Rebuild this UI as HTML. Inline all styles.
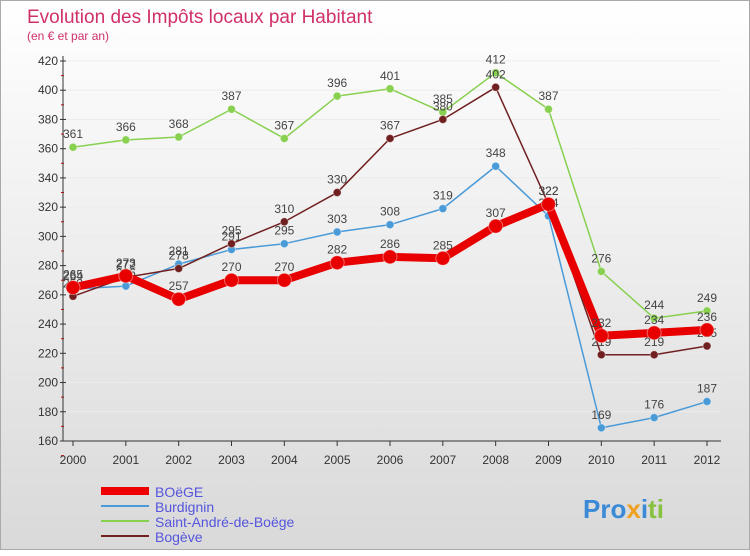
<!DOCTYPE html>
<html><head><meta charset="utf-8"><style>
body{margin:0;width:750px;height:550px;overflow:hidden;font-family:"Liberation Sans",sans-serif}
#wrap{position:absolute;left:0;top:0;width:748px;height:548px;border:1px solid #aaa;background:linear-gradient(#fff,#d9d9d9)}
</style></head><body>
<div id="wrap">
<svg width="750" height="550" id="svg">
<text x="26" y="22" font-size="19" fill="#d0306a">Evolution des Impôts locaux par Habitant</text>
<text x="26" y="39" font-size="12" fill="#d0306a">(en € et par an)</text>
<g id="axes"></g><g id="series"></g>
<g>
<line x1="100" y1="490" x2="148" y2="490" stroke="#e00" stroke-width="8"/>
<text x="154" y="496" font-size="14" fill="#5555dd">BOëGE</text>
<line x1="100" y1="505" x2="148" y2="505" stroke="#4a9ad8" stroke-width="2"/>
<text x="154" y="511" font-size="14" fill="#5555dd">Burdignin</text>
<line x1="100" y1="520" x2="148" y2="520" stroke="#88d050" stroke-width="2"/>
<text x="154" y="526" font-size="14" fill="#5555dd">Saint-André-de-Boëge</text>
<line x1="100" y1="535" x2="148" y2="535" stroke="#702020" stroke-width="2"/>
<text x="154" y="541" font-size="14" fill="#5555dd">Bogève</text>
</g>
<text x="582" y="517" font-size="26" font-weight="bold"><tspan fill="#3a8ad8">Pro</tspan><tspan fill="#f0a020">x</tspan><tspan fill="#3a8ad8">i</tspan><tspan fill="#88c040">ti</tspan></text>
</svg></div>
<script>
const years=["2000","2001","2002","2003","2004","2005","2006","2007","2008","2009","2010","2011","2012"];
const yTicks=[160,180,200,220,240,260,280,300,320,340,360,380,400,420];
const boege=[265,273,257,270,270,282,286,285,307,322,232,234,236];
const burdignin=[264,266,281,291,295,303,308,319,348,314,169,176,187];
const saintAndre=[361,366,368,387,367,396,401,385,412,387,276,244,249];
const bogeve=[259,272,278,295,310,330,367,380,402,322,219,219,225];
const NS="http://www.w3.org/2000/svg";
const X=i=>72+i*(634/12), Y=v=>60+(420-v)*380/260;
function mk(p,t,a){const e=document.createElementNS(NS,t);for(const k in a)e.setAttribute(k,a[k]);p.appendChild(e);return e;}
const ax=document.getElementById('axes');
for(const v of yTicks){
 const gl=mk(ax,'line',{x1:62,x2:720,y1:Y(v),y2:Y(v),stroke:'#ececec'});
 
 
 const t=mk(ax,'text',{x:57,y:Y(v)+4,'text-anchor':'end','font-size':12,fill:'#333'});t.textContent=v;
 
 
 mk(ax,'line',{x1:59,x2:65,y1:Y(v),y2:Y(v),stroke:'#333'});
 mk(ax,'line',{x1:60,x2:63,y1:Y(v)+14.6,y2:Y(v)+14.6,stroke:'#e00'});
}
const yl=mk(ax,'line',{x1:62,x2:62,y1:55,y2:440,stroke:'#333'});


const xl=mk(ax,'line',{x1:62,x2:720,y1:440,y2:440,stroke:'#333'});


years.forEach((y,i)=>{mk(ax,'line',{x1:X(i),x2:X(i),y1:440,y2:445,stroke:'#333'});
 const t=mk(ax,'text',{x:X(i),y:463,'text-anchor':'middle','font-size':12,fill:'#333'});t.textContent=y;
 
 });
const sg=document.getElementById('series');
function draw(data,color,w,r,name){
 const g=mk(sg,'g',{});
 
 
 const l=mk(g,'polyline',{points:data.map((v,i)=>X(i)+','+Y(v)).join(' '),fill:'none',stroke:color,'stroke-width':w,'stroke-linejoin':'round'});
 
 
 data.forEach((v,i)=>{const c=mk(g,'circle',{cx:X(i),cy:Y(v),r:r,fill:color,stroke:'#fff','stroke-opacity':0.4});
  
  
  const t=mk(g,'text',{x:X(i),y:Y(v)-9,'text-anchor':'middle','font-size':12,fill:'#444'});t.textContent=v;
  
  });
}
draw(saintAndre,'#88d050',1.5,4,'saint-andre');
draw(burdignin,'#4a9ad8',1.5,4,'burdignin');
draw(bogeve,'#702020',1.5,4,'bogeve');
draw(boege,'#e80000',8,7,'boege');
</script>
</body></html>
